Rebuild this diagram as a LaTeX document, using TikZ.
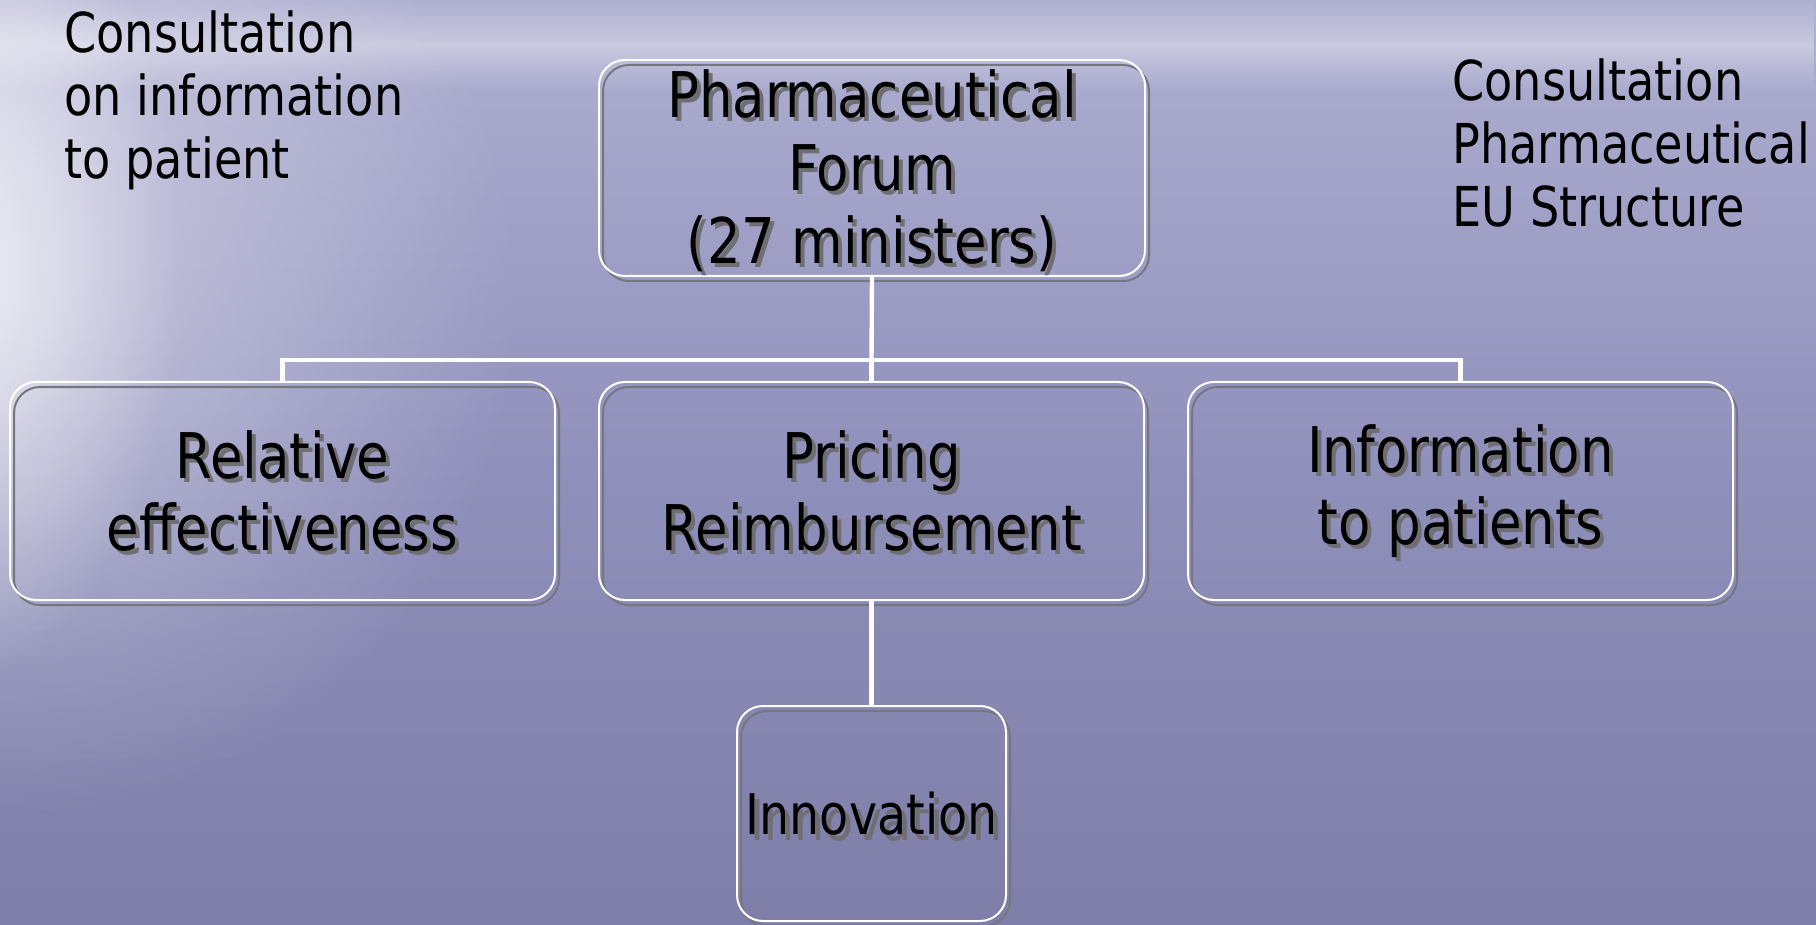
\documentclass[tikz,border=0pt]{standalone}
\usepackage{fontspec}
\usetikzlibrary{fadings,calc}
\newfontfamily\boxfont[FakeStretch=0.84]{DejaVu Sans}
\newfontfamily\sidefont[FakeStretch=0.84]{DejaVu Sans}
\newfontfamily\innfont[FakeStretch=0.85]{DejaVu Sans}
\definecolor{bgtop}{RGB}{176,176,210}
\definecolor{bgmid}{RGB}{144,144,188}
\definecolor{bgbot}{RGB}{126,126,168}
\definecolor{shgray}{RGB}{118,118,128}
\definecolor{txtsh}{RGB}{110,110,115}
\tikzfading[name=midband, top color=transparent!100, bottom color=transparent!100, middle color=transparent!25]
\tikzfading[name=glow, inner color=transparent!0, outer color=transparent!100]
\tikzset{
  boxmain/.style={draw=white, line width=1pt, rounded corners=13pt, align=center, inner sep=0pt, text=black},
  boxsh/.style={draw=shgray, line width=1pt, rounded corners=13pt, inner sep=0pt},
  boxtxt/.style={font=\boxfont\fontsize{31.5pt}{36pt}\selectfont},
  toptxt/.style={font=\boxfont\fontsize{31.5pt}{36.5pt}\selectfont},
  inntxt/.style={font=\innfont\fontsize{28pt}{31pt}\selectfont},
  shtxt/.style={text=txtsh, align=center, inner sep=0pt},
  sidetxt/.style={font=\sidefont\fontsize{27.5pt}{31.5pt}\selectfont, align=left, inner sep=0pt, anchor=north west, text=black},
  conn/.style={draw=white, line width=2.2pt}
}
\newcommand\mkbox[9]{% name, cx, cy, w, h, text style, shadow shift, text, text y offset
  \node[boxsh, minimum width=#4, minimum height=#5] (#1-sh) at ($(#2,#3)+(2pt,-2.5pt)$) {};
  \node[boxmain, minimum width=#4, minimum height=#5] (#1) at (#2,#3) {};
  \node[shtxt, #6] (#1-tsh) at ($(#2,#3)+#7+(0,#9)$) {#8};
  \node[shtxt, #6, text=black] (#1-txt) at ($(#2,#3)+(0,#9)$) {#8};
}
\begin{document}
\begin{tikzpicture}[x=0.5pt,y=0.5pt]
\useasboundingbox (0,0) rectangle (1816,-925);
% background
\shade[top color=bgtop, bottom color=bgbot, middle color=bgmid] (0,0) rectangle (1816,-925);
\fill[white, opacity=0.45, path fading=glow] (0,-300) ellipse (520 and 520);
\fill[white, opacity=0.7, path fading=glow] (-40,-260) ellipse (220 and 420);
\fill[white, opacity=0.45, path fading=midband] (0,0) rectangle (1816,-90);
% side texts
\node[sidetxt] (cl) at (64,-10) {Consultation\\on information\\to patient};
\node[sidetxt] (cr) at (1452,-58) {Consultation\\Pharmaceutical\\EU Structure};
% connectors
\coordinate (bar) at (871.5,-360);
% boxes
\mkbox{top}{872}{-168}{273pt}{108pt}{toptxt}{(2pt,-2pt)}{Pharmaceutical\\Forum\\(27 ministers)}{-3}
\mkbox{rel}{282.5}{-491}{272.5pt}{109pt}{boxtxt}{(2pt,-2pt)}{Relative\\effectiveness}{0}
\mkbox{pri}{871.5}{-491}{272.5pt}{109pt}{boxtxt}{(2pt,-2pt)}{Pricing\\Reimbursement}{0}
\mkbox{inf}{1460.5}{-491}{272.5pt}{109pt}{boxtxt}{(2pt,-2pt)}{Information\\to patients}{0}
\mkbox{inn}{871.5}{-813.5}{134.5pt}{107.5pt}{inntxt}{(2.5pt,-3pt)}{Innovation}{0}
\draw[conn] (top.south) -- (bar);
\draw[conn] (rel.north) -- (rel.north |- bar) -- (inf.north |- bar) -- (inf.north);
\draw[conn] (bar) -- (pri.north);
\draw[conn] (pri.south) -- (inn.north);
\end{tikzpicture}
\end{document}
